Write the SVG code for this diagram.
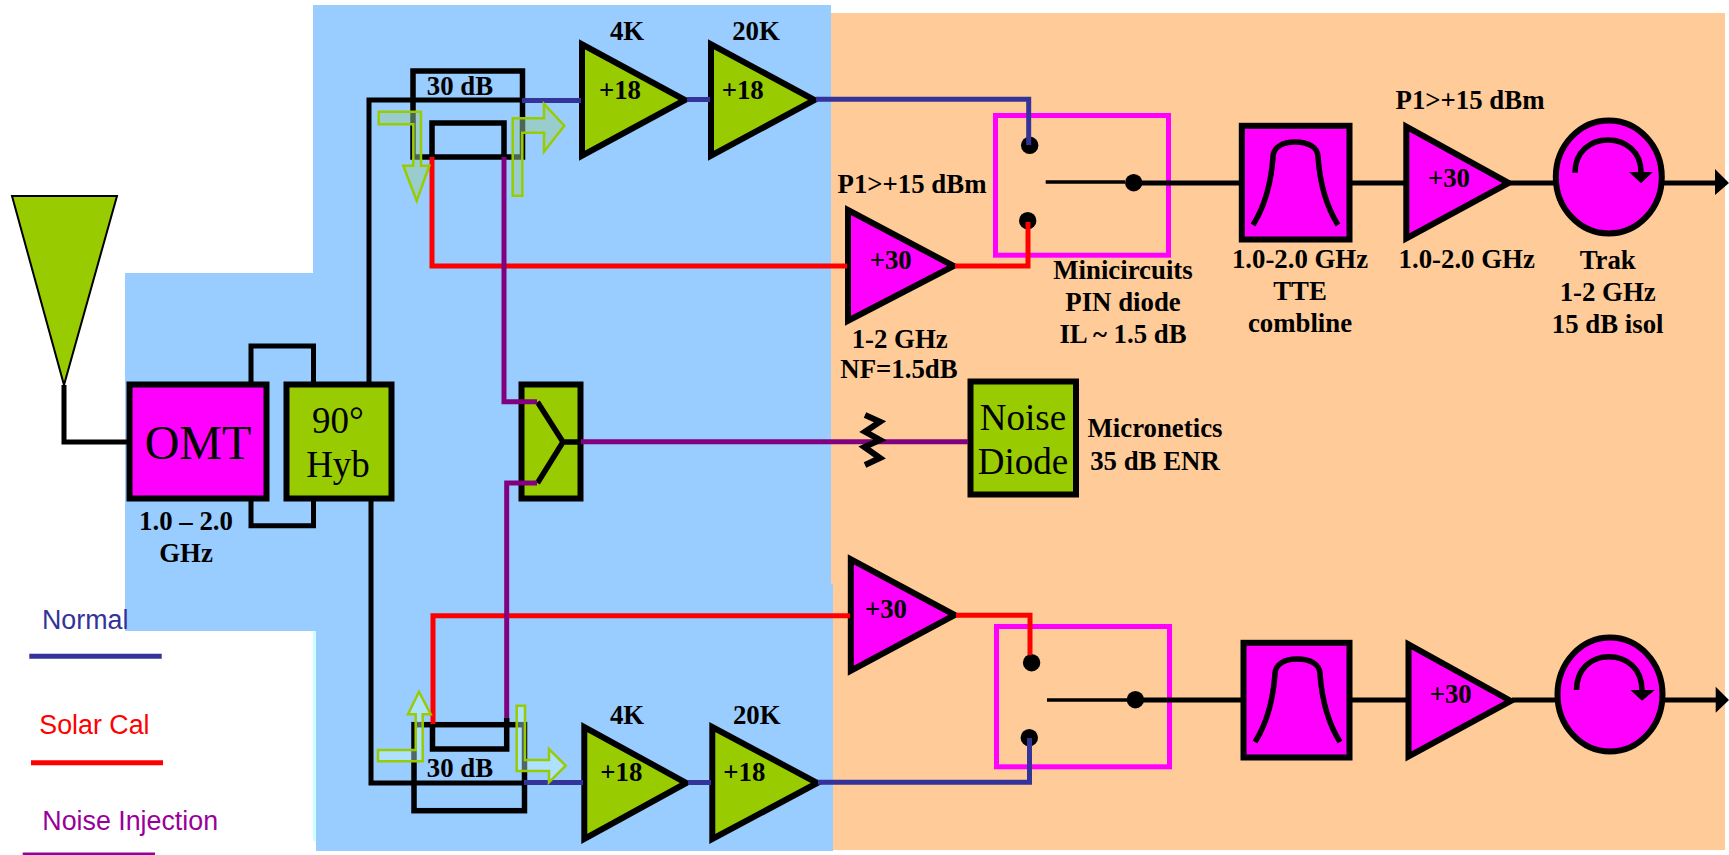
<svg xmlns="http://www.w3.org/2000/svg" width="1729" height="855" viewBox="0 0 1729 855">
<style>
.b{font-family:"Liberation Serif",serif;font-weight:bold;font-size:26.800px;fill:#000;text-anchor:middle}
.r{font-family:"Liberation Serif",serif;font-size:37px;fill:#000;text-anchor:middle}
.l{font-family:"Liberation Sans",sans-serif;font-size:26.800px}
.g{fill:#99cc00;stroke:#000;stroke-width:6}
.m{fill:#ff00ff;stroke:#000;stroke-width:6}
.sw{fill:none;stroke:#ff00ff;stroke-width:5}
.k{fill:none;stroke:#000;stroke-width:5.500}
.c{fill:none;stroke-width:5;stroke-linejoin:miter}
.ck{stroke:#000}.cb{stroke:#333399}.cr{stroke:#ff0000}.cp{stroke:#800080}
.au{fill:#99cc99;fill-opacity:.5;stroke:#99cc00;stroke-width:2.500}
.al{fill:#ccffff;fill-opacity:.4;stroke:#99cc00;stroke-width:2.500}
</style>
<rect width="1729" height="855" fill="#fff"/>
<g id="background">
<rect x="831" y="13" width="894" height="837" fill="#ffcc99"/>
<rect x="313" y="631" width="3" height="210" fill="#ccffff"/>
<path d="M313 5H831V584H833V851H316V631H125V273H313Z" fill="#99ccff"/>
</g>
<g id="horn"><path d="M12 196H117L64 385Z" fill="#99cc00" stroke="#000" stroke-width="2"/></g>
<g id="omt"><rect class="m" x="129.500" y="384.500" width="137" height="114"/><text class="r" x="198" y="459" style="font-size:48px">OMT</text><text class="b" x="186" y="530">1.0 – 2.0</text><text class="b" x="186" y="562">GHz</text></g>
<g id="hybrid"><rect class="g" x="286.500" y="384.500" width="105" height="114"/><text class="r" x="338" y="433">90°</text><text class="r" x="338" y="477">Hyb</text></g>
<g id="splitter"><rect class="g" x="521.500" y="384.500" width="59" height="114"/><path class="k" d="M537.500 402L563 442L537.500 483M563 442H581"/></g>
<g id="coupler-top"><rect class="k" x="413" y="71" width="109.500" height="86"/><path class="k" d="M432 157V123H504V157"/><text class="b" x="460" y="95">30 dB</text></g>
<g id="coupler-bottom"><rect class="k" x="414" y="724.700" width="110.500" height="86"/><path class="k" d="M432.500 724.700V749H506.700V718"/><text class="b" x="460" y="776.700">30 dB</text></g>
<g id="amp-4k-top"><path class="g" d="M582 44.300V155.700L685 100Z"/><text class="b" x="620" y="98.700">+18</text><text class="b" x="627" y="39.500">4K</text></g>
<g id="amp-20k-top"><path class="g" d="M711 44.300V155.700L814.500 100Z"/><text class="b" x="742.700" y="99">+18</text><text class="b" x="756" y="39.500">20K</text></g>
<g id="amp-4k-bottom"><path class="g" d="M584.300 727V839L686.300 783Z"/><text class="b" x="621.300" y="781">+18</text><text class="b" x="627" y="724.300">4K</text></g>
<g id="amp-20k-bottom"><path class="g" d="M712.300 727V839L817.300 783Z"/><text class="b" x="744.300" y="781">+18</text><text class="b" x="756.700" y="724.300">20K</text></g>
<g id="lna-top"><path class="m" d="M848 210V320.700L953.700 266Z"/><text class="b" x="890.700" y="268.700">+30</text><text class="b" x="912" y="192.700">P1&gt;+15 dBm</text><text class="b" x="899.700" y="348">1-2 GHz</text><text class="b" x="899" y="378">NF=1.5dB</text></g>
<g id="lna-bottom"><path class="m" d="M850.800 559.300V670.700L954.800 615Z"/><text class="b" x="886" y="618">+30</text></g>
<g id="switch-top"><rect class="sw" x="995.500" y="115.500" width="173" height="139.700"/><circle cx="1029.700" cy="145.300" r="8.700"/><circle cx="1027.700" cy="220.700" r="8.700"/><circle cx="1133.700" cy="182.700" r="8.700"/><path d="M1045.700 182H1125" stroke="#000" stroke-width="3.500"/><text class="b" x="1123" y="278.700">Minicircuits</text><text class="b" x="1123" y="310.700">PIN diode</text><text class="b" x="1123" y="342.700">IL ~ 1.5 dB</text></g>
<g id="switch-bottom"><rect class="sw" x="996.500" y="626.500" width="173" height="140.300"/><circle cx="1031.600" cy="662.700" r="8.700"/><circle cx="1029.300" cy="737.700" r="8.700"/><circle cx="1135.400" cy="699.700" r="8.700"/><path d="M1047 700H1128" stroke="#000" stroke-width="3.500"/></g>
<g id="filter-top"><rect class="m" x="1241.800" y="125.800" width="107.700" height="113.700"/><path class="k" d="M1253 225Q1270 198 1273 157C1273 147 1283 142 1295 142C1308 142 1318 147 1318 157Q1321 198 1338 225"/><text class="b" x="1300" y="268">1.0-2.0 GHz</text><text class="b" x="1300" y="300">TTE</text><text class="b" x="1300" y="331.700">combline</text></g>
<g id="filter-bottom"><rect class="m" x="1243.500" y="642.800" width="106" height="114.700"/><path class="k" d="M1255 742Q1272 715 1275 674C1275 664 1285 659 1297 659C1310 659 1320 664 1320 674Q1323 715 1340 742"/></g>
<g id="amp-top"><path class="m" d="M1406.300 126.600V238.400L1508.700 183Z"/><text class="b" x="1449" y="186.700">+30</text><text class="b" x="1470" y="109.300">P1&gt;+15 dBm</text><text class="b" x="1466.700" y="267.700">1.0-2.0 GHz</text></g>
<g id="amp-bottom"><path class="m" d="M1408.500 644.300V756.400L1510.800 701Z"/><text class="b" x="1450.700" y="703">+30</text></g>
<g id="isolator-top"><ellipse class="m" cx="1608.800" cy="176.900" rx="53" ry="56.500"/><path class="k" style="stroke-width:5.500" d="M1575 172.700C1575 152 1590 140 1608 140C1626 140 1641 152 1641 172"/><path d="M1629 172H1652.700L1641 183.300Z"/><text class="b" x="1607.700" y="268.700">Trak</text><text class="b" x="1607.700" y="300.700">1-2 GHz</text><text class="b" x="1607.700" y="332.700">15 dB isol</text></g>
<g id="isolator-bottom"><ellipse class="m" cx="1610" cy="694.500" rx="52.500" ry="57"/><path class="k" style="stroke-width:5.500" d="M1576.500 690C1576.500 669 1591 656.700 1609 656.700C1627 656.700 1642 669 1642 690"/><path d="M1630.400 690H1654.800L1642 700.700Z"/></g>
<g id="noise-diode"><rect class="g" x="970.500" y="381.500" width="105.500" height="113"/><text class="r" x="1023" y="430">Noise</text><text class="r" x="1023" y="474">Diode</text><text class="b" x="1155" y="437">Micronetics</text><text class="b" x="1155" y="470">35 dB ENR</text></g>
<g id="connectors">
<path class="c ck" d="M64 385V442H127"/>
<path class="c ck" d="M251 384V346H313.500V384M251 499V525.700H313.500V499"/>
<path class="c ck" d="M369 384V100H522M371 499L371 783H524"/>
<path class="c cb" d="M522 100.500H581M687 99.500H710M816 99.300H1028.700V145"/>
<path class="c cb" d="M524 782.500H583M688 782.500H711M818 782.300H1029.500V738"/>
<path class="c cr" d="M432 157V266H847"/>
<path class="c cr" d="M433 724V615.700H850"/>
<path class="c cr" d="M955 266H1028V222"/>
<path class="c cr" d="M956 615.300H1030V655"/>
<path class="c cp" d="M504 157V401.700H537"/>
<path class="c cp" d="M506.700 718V483H537"/>
<path class="c cp" d="M581 441.700H968"/>
<path class="c ck" style="stroke-width:6" d="M865 415L880 421.700L865 431.700L880 440L864.400 447L880 458L865 465"/>
<path class="c ck" d="M1134 183H1240M1350 183H1404M1510 183H1555"/>
<path class="c ck" d="M1136 700H1242M1350 700H1406M1512 700H1557"/>
<path class="c ck" d="M1663 183H1716M1664 700H1717"/>
<path d="M1715 169L1729 183L1715 195ZM1715.700 686.700L1729 700L1715.700 712.700Z"/>
</g>
<g id="arrows">
<path class="au" d="M378.700 111.700H421V165.700H429.300L416.700 201L403.300 165.700H413.300V124.300H378.700Z"/>
<path class="au" d="M512.700 118.300V195.700H522.300V132.700H544V151.700L564.300 125.700L544 104V118.300Z"/>
<path class="al" d="M378 750H415.700V714.300H408L419 691.700L430.700 714.300H422.700V761.300H378Z"/>
<path class="al" d="M516.700 705.700H525V760H549V749L565.700 765.700L549 782.300V771H516.700Z"/>
</g>
<g id="legend">
<text class="l" x="42" y="629" fill="#333399">Normal</text>
<path d="M29.300 656.300H161.700" stroke="#333399" stroke-width="5"/>
<text class="l" x="39.300" y="734" fill="#ff0000">Solar Cal</text>
<path d="M31 762.700H163" stroke="#ff0000" stroke-width="5"/>
<text class="l" x="42.300" y="829.700" fill="#990099">Noise Injection</text>
<path d="M22.700 854H155" stroke="#990099" stroke-width="3"/>
</g>
</svg>
